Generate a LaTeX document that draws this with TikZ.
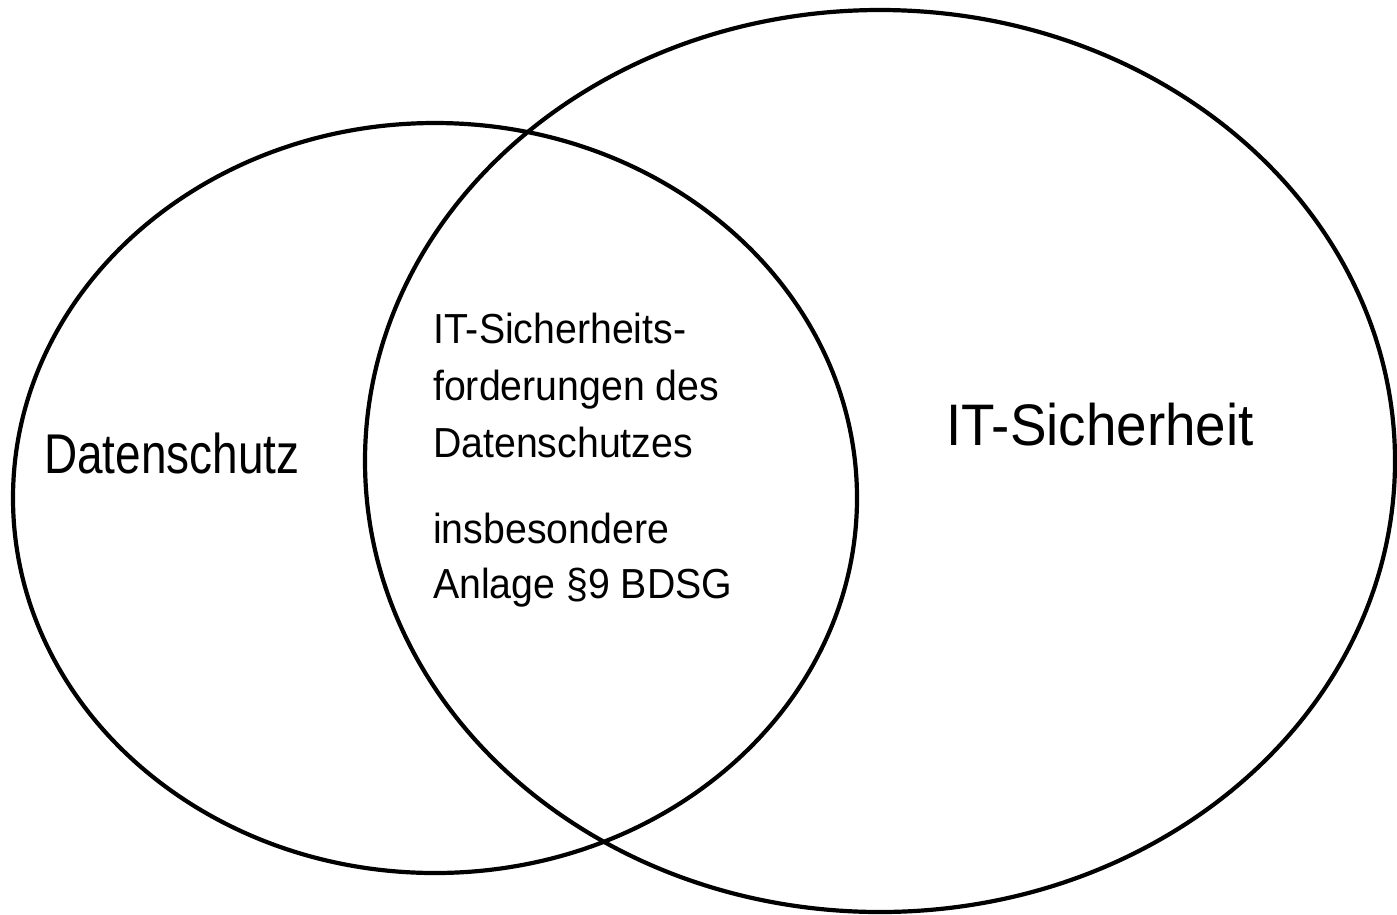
\documentclass[tikz,border=0pt]{standalone}
\usepackage{fontspec}
\setmainfont{Liberation Sans}
\newfontfamily\narrowfont{Liberation Sans}[FakeStretch=0.82]
\newfontfamily\labelfont{Liberation Sans}[FakeStretch=0.935]
\usetikzlibrary{shapes.geometric}
\tikzset{
  set/.style={draw, ellipse, line width=4.2pt, inner sep=0pt},
  txt/.style={anchor=base west, inner sep=0pt},
}
\begin{document}
\begin{tikzpicture}[x=1pt, y=-1pt]
  \useasboundingbox (0,0) rectangle (1397,914);
  % the two overlapping sets
  \node[set, minimum width=844pt, minimum height=750pt] (ds) at (435,498) {};
  \node[set, minimum width=1030pt, minimum height=902pt] (its) at (880,461) {};
  % set labels
  \node[txt, font=\narrowfont\fontsize{56}{56}\selectfont] (dslabel) at (44,473) {Datenschutz};
  \node[txt, font=\labelfont\fontsize{58.6}{58.6}\selectfont] (itslabel) at (946,445) {IT-Sicherheit};
  % intersection text
  \tikzset{mid/.style={txt, font=\labelfont\fontsize{42}{42}\selectfont}}
  \node[mid] (l1) at (433,343) {IT-Sicherheits-};
  \node[mid] (l2) at (433,400) {forderungen des};
  \node[mid] (l3) at (433,457) {Datenschutzes};
  \node[mid] (l4) at (433,543) {insbesondere};
  \node[mid] (l5) at (433,598) {Anlage §9 BDSG};
\end{tikzpicture}
\end{document}
